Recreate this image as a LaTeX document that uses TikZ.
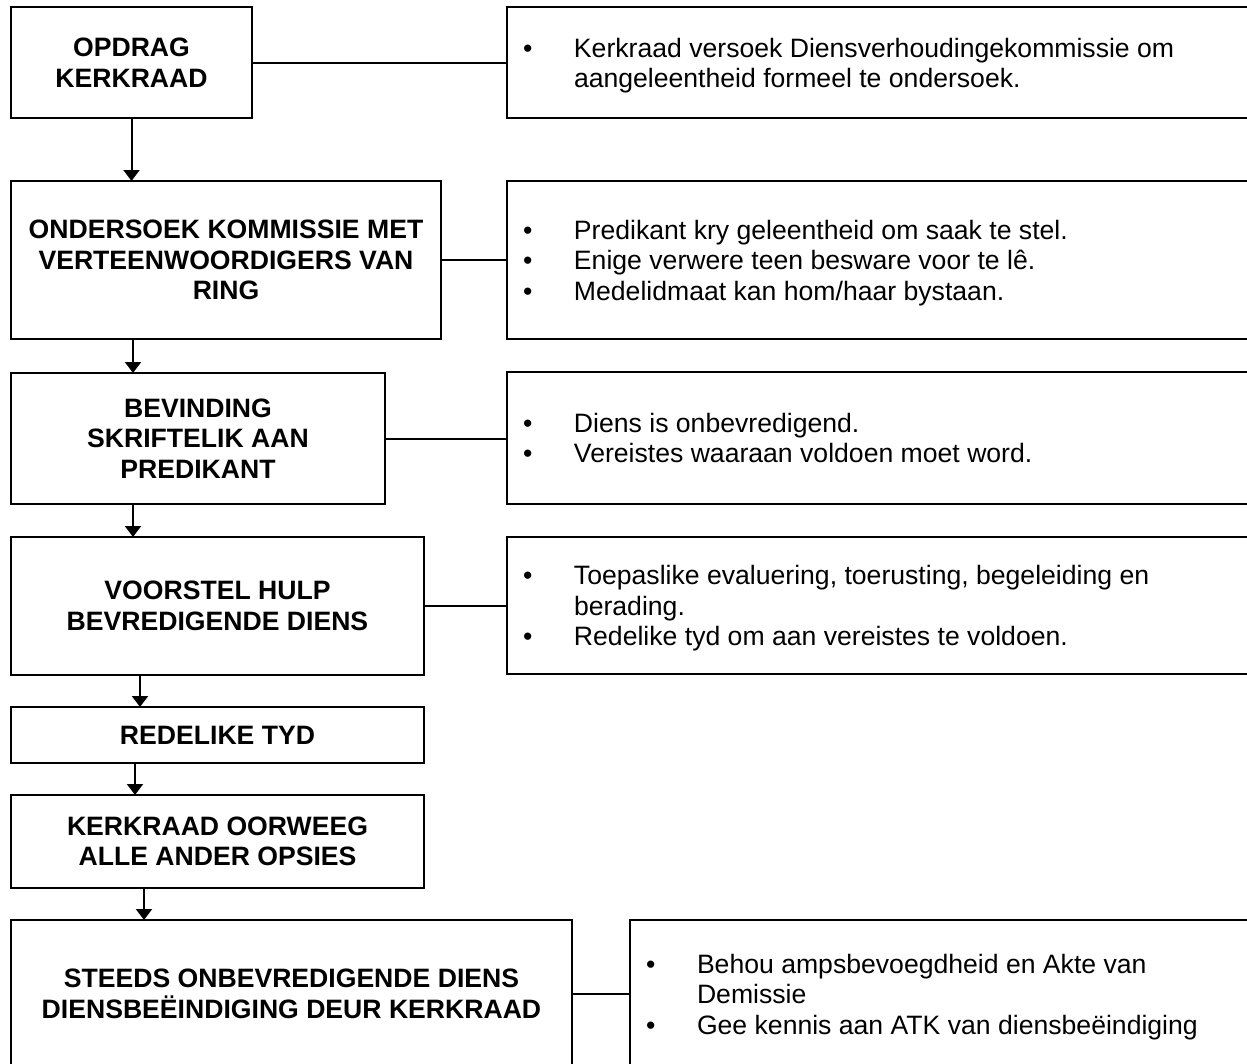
\documentclass[tikz,border=0pt]{standalone}
\usepackage{fontspec}
\setmainfont{Liberation Sans}
\usetikzlibrary{arrows.meta}
\newcommand\boxfont{\fontsize{26.6pt}{30.6pt}\selectfont\bfseries}
\newcommand\listfont{\fontsize{26.6pt}{30.6pt}\selectfont}
\newcommand\bul{\makebox[51pt][l]{\textbullet}}
\newcommand\indnt{\hspace*{51pt}}
\begin{document}
\begin{tikzpicture}[x=1pt,y=-1pt,
  stage/.style={draw,line width=2pt,inner sep=0pt,outer sep=0pt,align=center,font=\boxfont},
  notebox/.style={draw,line width=2pt,inner sep=0pt,outer sep=0pt},
  notetext/.style={anchor=west,inner sep=0pt,outer sep=0pt,align=left,font=\listfont},
  link/.style={line width=2pt},
  arr/.style={line width=2pt,-{Triangle[length=11pt,width=16pt]}}]
\useasboundingbox (0,0) rectangle (1247,1063);
\clip (0,0) rectangle (1247,1063);

% left column stages
\node[stage,minimum width=241pt,minimum height=111pt] (b1) at (131.5,62.5) {OPDRAG\\KERKRAAD};
\node[stage,minimum width=430pt,minimum height=158pt] (b2) at (226,260) {ONDERSOEK KOMMISSIE MET\\VERTEENWOORDIGERS VAN\\RING};
\node[stage,minimum width=374pt,minimum height=131pt] (b3) at (198,438.5) {BEVINDING\\SKRIFTELIK AAN\\PREDIKANT};
\node[stage,minimum width=413pt,minimum height=138pt] (b4) at (217.5,606) {VOORSTEL HULP\\BEVREDIGENDE DIENS};
\node[stage,minimum width=413pt,minimum height=56pt] (b5) at (217.5,735) {REDELIKE TYD};
\node[stage,minimum width=413pt,minimum height=93pt] (b6) at (217.5,841.5) {KERKRAAD OORWEEG\\ALLE ANDER OPSIES};
\node[stage,minimum width=561pt,minimum height=148pt] (b7) at (291.5,994) {STEEDS ONBEVREDIGENDE DIENS\\DIENSBE\"EINDIGING DEUR KERKRAAD};

% right note boxes
\node[notebox,minimum width=753pt,minimum height=111pt] (r1) at (883.5,62.5) {};
\node[notebox,minimum width=753pt,minimum height=158pt] (r2) at (883.5,260) {};
\node[notebox,minimum width=753pt,minimum height=132pt] (r3) at (883.5,438) {};
\node[notebox,minimum width=753pt,minimum height=137pt] (r4) at (883.5,605.5) {};
\node[notebox,minimum width=630pt,minimum height=148pt] (r7) at (945,994) {};

% note texts
\node[notetext,yshift=-3pt] (t1) at ([xshift=16pt]r1.west) {\bul Kerkraad versoek Diensverhoudingekommissie om\\\indnt aangeleentheid formeel te ondersoek.};
\node[notetext,yshift=-3pt] (t2) at ([xshift=16pt]r2.west) {\bul Predikant kry geleentheid om saak te stel.\\\bul Enige verwere teen besware voor te lê.\\\bul Medelidmaat kan hom/haar bystaan.};
\node[notetext] (t3) at ([xshift=16pt]r3.west) {\bul Diens is onbevredigend.\\\bul Vereistes waaraan voldoen moet word.};
\node[notetext,yshift=-3pt] (t4) at ([xshift=16pt]r4.west) {\bul Toepaslike evaluering, toerusting, begeleiding en\\\indnt berading.\\\bul Redelike tyd om aan vereistes te voldoen.};
\node[notetext,yshift=-3pt] (t7) at ([xshift=16pt]r7.west) {\bul Behou ampsbevoegdheid en Akte van\\\indnt Demissie\\\bul Gee kennis aan ATK van diensbeëindiging};

% horizontal links
\draw[link] (b1.east) -- (b1.east -| r1.west);
\draw[link] (b2.east) -- (b2.east -| r2.west);
\draw[link] (b3.east) -- (b3.east -| r3.west);
\draw[link] (b4.east) -- (b4.east -| r4.west);
\draw[link] (b7.east) -- (b7.east -| r7.west);

% downward arrows
\draw[arr] (b1.south) -- (b1.south |- b2.north);
\draw[arr] ([xshift=122pt]b2.south west) -- ([xshift=122pt]b2.south west |- b3.north);
\draw[arr] ([xshift=122pt]b3.south west) -- ([xshift=122pt]b3.south west |- b4.north);
\draw[arr] ([xshift=129pt]b4.south west) -- ([xshift=129pt]b4.south west |- b5.north);
\draw[arr] ([xshift=124pt]b5.south west) -- ([xshift=124pt]b5.south west |- b6.north);
\draw[arr] ([xshift=133pt]b6.south west) -- ([xshift=133pt]b6.south west |- b7.north);
\end{tikzpicture}
\end{document}
